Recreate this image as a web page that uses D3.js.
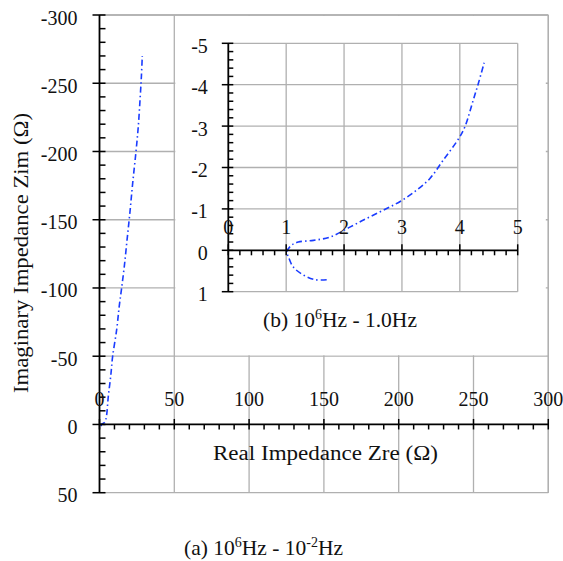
<!DOCTYPE html>
<html><head><meta charset="utf-8">
<script src="https://cdn.jsdelivr.net/npm/d3@7"></script>
<style>body{margin:0;background:#fff}svg{display:block}text{font-family:"Liberation Serif","Times New Roman",serif;fill:#111}</style>
</head><body><div id="chart"></div>
<script>
// Inset series (10^6 Hz - 1.0 Hz), Ω
const insetZre = [1.70,1.50,1.30,1.12,1.04,1.01,1.09,1.21,1.47,1.76,2.10,2.39,2.68,2.97,3.25,3.48,3.71,3.99,4.09,4.23,4.32,4.42];
const insetZim = [0.71,0.71,0.60,0.40,0.16,0.04,-0.12,-0.20,-0.24,-0.32,-0.56,-0.77,-0.97,-1.18,-1.45,-1.73,-2.17,-2.72,-2.99,-3.62,-4.03,-4.53];
// Low-frequency tail (1.0 Hz - 10^-2 Hz), Ω
const tailZre = [4.9,5.9,7.5,8.8,11.5,13.2,14.8,16.6,18.4,20.3,22.2,24.4,25.9,27.1,28.0,28.6];
const tailZim = [-8,-20.7,-35.4,-50,-69.6,-86.7,-100,-116,-135,-155,-177,-200,-218,-238,-255,-270];
const mainXTicks = [0,50,100,150,200,250,300];
const mainYTicks = [-300,-250,-200,-150,-100,-50,0,50];
const insetXTicks = [0,1,2,3,4,5];
const insetYTicks = [-5,-4,-3,-2,-1,0,1];
const xLabel = "Real Impedance Zre (Ω)";
const yLabel = "Imaginary Impedance Zim (Ω)";

const W = 563, H = 561;
const svg = d3.select("#chart").append("svg").attr("width", W).attr("height", H);
const gridC = "#b0b0b0", lineC = "#1a3cff";
const insetPts = insetZre.map((d,i)=>[d, insetZim[i]]);
const mainPts = insetPts.concat(tailZre.map((d,i)=>[d, tailZim[i]]));

// main scales
const x = d3.scaleLinear().domain([0,300]).range([99.5,548.3]);
const y = d3.scaleLinear().domain([-300,50]).range([15,492.7]);

// main grid
const g = svg.append("g");
g.selectAll(".vg").data(mainXTicks.filter(d=>d>0)).join("line")
  .attr("x1",d=>x(d)).attr("x2",d=>x(d)).attr("y1",y(-300)).attr("y2",y(50))
  .attr("stroke",gridC).attr("stroke-width",1.3);
g.selectAll(".hg").data(mainYTicks.filter(d=>d!==0)).join("line")
  .attr("x1",x(0)).attr("x2",x(300)).attr("y1",d=>y(d)).attr("y2",d=>y(d))
  .attr("stroke",gridC).attr("stroke-width",1.3);
g.append("rect").attr("x",x(50)+1).attr("y",y(-300)+1)
  .attr("width",x(300)-x(50)-3.5).attr("height",y(-50)-y(-300)-2).attr("fill","#fff");
g.append("line").attr("x1",x(0)).attr("x2",x(300)).attr("y1",y(-300)).attr("y2",y(-300)).attr("stroke",gridC).attr("stroke-width",1.3);
g.append("line").attr("x1",x(300)).attr("x2",x(300)).attr("y1",y(-300)).attr("y2",y(50)).attr("stroke",gridC).attr("stroke-width",1.3);

// main curve
const lineMain = d3.line().x(d=>x(d[0])).y(d=>y(d[1])).curve(d3.curveCatmullRom);
svg.append("path").attr("d",lineMain(mainPts)).attr("fill","none").attr("stroke",lineC)
  .attr("stroke-width",1.6).attr("stroke-dasharray","6,3,1.5,3");

// main axes
const ax = svg.append("g").attr("stroke","#000");
ax.append("line").attr("x1",x(0)).attr("x2",x(0)).attr("y1",y(-300)).attr("y2",y(50)).attr("stroke-width",1.8);
ax.append("line").attr("x1",x(0)).attr("x2",x(300)).attr("y1",y(0)).attr("y2",y(0)).attr("stroke-width",1.8);
const yMinor = d3.range(-300,51,10), xMinor = d3.range(0,301,10);
ax.selectAll(".ym").data(yMinor).join("line")
  .attr("x1",d=>mainYTicks.includes(d)?x(0)-7:x(0)).attr("x2",x(0)+6)
  .attr("y1",d=>y(d)).attr("y2",d=>y(d)).attr("stroke-width",1.5);
ax.selectAll(".xm").data(xMinor).join("line")
  .attr("y1",d=>mainXTicks.includes(d)?y(0)-5.5:y(0)).attr("y2",y(0)+5)
  .attr("x1",d=>x(d)).attr("x2",d=>x(d)).attr("stroke-width",1.5);
svg.selectAll(".ytl").data(mainYTicks).join("text")
  .attr("x",x(0)-22).attr("y",d=>y(d)+9.5).attr("text-anchor","end")
  .attr("font-size",20).text(d=>d);
svg.selectAll(".xtl").data(mainXTicks).join("text")
  .attr("x",d=>x(d)).attr("y",y(0)-18).attr("text-anchor","middle")
  .attr("font-size",20).text(d=>d);
svg.append("text").attr("x",325.5).attr("y",459.5).attr("text-anchor","middle")
  .attr("font-size",20).attr("textLength",225).attr("lengthAdjust","spacingAndGlyphs").text(xLabel);
svg.append("text").attr("transform","translate(28,253) rotate(-90)").attr("text-anchor","middle")
  .attr("font-size",20).attr("textLength",280).attr("lengthAdjust","spacingAndGlyphs").text(yLabel);
const capA = svg.append("text").attr("x",263.5).attr("y",555).attr("text-anchor","middle").attr("font-size",21.5);
capA.append("tspan").text("(a) 10");
capA.append("tspan").attr("font-size",14).attr("dy",-8).text("6");
capA.append("tspan").attr("dy",8).text("Hz - 10");
capA.append("tspan").attr("font-size",14).attr("dy",-8).text("-2");
capA.append("tspan").attr("dy",8).text("Hz");

// inset
const xi = d3.scaleLinear().domain([0,5]).range([228.3,517.7]);
const yi = d3.scaleLinear().domain([-5,1]).range([43.3,291.7]);
const gi = svg.append("g");
gi.selectAll(".ivg").data(insetXTicks.filter(d=>d>0)).join("line")
  .attr("x1",d=>xi(d)).attr("x2",d=>xi(d)).attr("y1",yi(-5)).attr("y2",yi(1))
  .attr("stroke",gridC).attr("stroke-width",1.3);
gi.selectAll(".ihg").data(insetYTicks.filter(d=>d!==0)).join("line")
  .attr("x1",xi(0)).attr("x2",xi(5)).attr("y1",d=>yi(d)).attr("y2",d=>yi(d))
  .attr("stroke",gridC).attr("stroke-width",1.3);
const lineIn = d3.line().x(d=>xi(d[0])).y(d=>yi(d[1])).curve(d3.curveCatmullRom);
gi.append("path").attr("d",lineIn(insetPts)).attr("fill","none").attr("stroke",lineC)
  .attr("stroke-width",1.6).attr("stroke-dasharray","6,3,1.5,3");
const ai = svg.append("g").attr("stroke","#000");
ai.append("line").attr("x1",xi(0)).attr("x2",xi(0)).attr("y1",yi(-5)).attr("y2",yi(1)).attr("stroke-width",1.8);
ai.append("line").attr("x1",xi(0)).attr("x2",xi(5)).attr("y1",yi(0)).attr("y2",yi(0)).attr("stroke-width",1.8);
const yiMinor = d3.range(-25,6,1).map(d=>d/5), xiMinor = d3.range(0,26,1).map(d=>d/5);
ai.selectAll(".yim").data(yiMinor).join("line")
  .attr("x1",d=>Number.isInteger(d)?xi(0)-6.5:xi(0)).attr("x2",xi(0)+5)
  .attr("y1",d=>yi(d)).attr("y2",d=>yi(d)).attr("stroke-width",1.5);
ai.selectAll(".xim").data(xiMinor).join("line")
  .attr("y1",d=>Number.isInteger(d)?yi(0)-6:yi(0)).attr("y2",yi(0)+5)
  .attr("x1",d=>xi(d)).attr("x2",d=>xi(d)).attr("stroke-width",1.5);
svg.selectAll(".yitl").data(insetYTicks).join("text")
  .attr("x",xi(0)-20.5).attr("y",d=>yi(d)+9.5).attr("text-anchor","end")
  .attr("font-size",20).text(d=>d);
svg.selectAll(".xitl").data(insetXTicks).join("text")
  .attr("x",d=>xi(d)).attr("y",yi(0)-16.5).attr("text-anchor","middle")
  .attr("font-size",20).text(d=>d);
const capB = svg.append("text").attr("x",340).attr("y",327).attr("text-anchor","middle").attr("font-size",21.5);
capB.append("tspan").text("(b) 10");
capB.append("tspan").attr("font-size",14).attr("dy",-8).text("6");
capB.append("tspan").attr("dy",8).text("Hz - 1.0Hz");
</script></body></html>
